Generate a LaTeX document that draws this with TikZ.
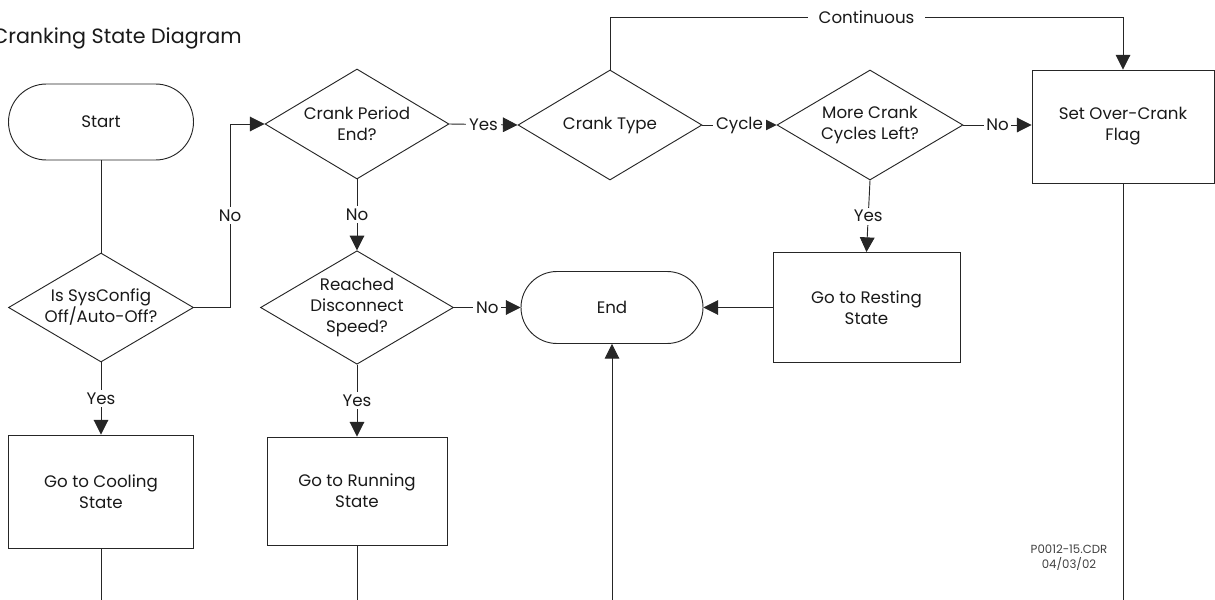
\documentclass[tikz,border=0pt]{standalone}
\usepackage{fontspec}
\setmainfont{Poppins}
\usetikzlibrary{shapes.geometric,shapes.misc,arrows.meta,calc}
\begin{document}
\begin{tikzpicture}[x=0.75pt,y=-0.75pt,
  every node/.style={font=\fontsize{12.5}{15.75}\selectfont, text=black!90},
  ln/.style={draw=black!85, line width=0.7pt},
  arr/.style={ln, -{Triangle[length=11pt,width=11pt]}},
  term/.style={rounded rectangle, ln, align=center, inner sep=0pt},
  dec/.style={diamond, ln, aspect=1.7, align=center, inner sep=0pt},
  proc/.style={rectangle, ln, align=center, inner sep=0pt},
  lbl/.style={fill=white, inner sep=2pt}
]
\useasboundingbox (0,0) rectangle (1215,600);

\node[anchor=base east, inner sep=0pt, font=\fontsize{15.5}{19}\selectfont] (title) at (242,43) {Cranking State Diagram};

\node[term, minimum width=138.75pt, minimum height=57pt] (start) at (101,122) {Start};
\node[dec, minimum width=138.75pt, minimum height=81.75pt] (d1) at (101,307.5) {Is SysConfig\\Off/Auto-Off?};
\node[proc, minimum width=138.75pt, minimum height=84.75pt] (cool) at (101,491.5) {Go to Cooling\\State};

\node[dec, minimum width=138pt, minimum height=82.5pt] (d2) at (357,124) {Crank Period\\End?};
\node[dec, minimum width=138pt, minimum height=81.75pt] (d5) at (357,307.5) {Reached\\Disconnect\\Speed?};
\node[proc, minimum width=135pt, minimum height=81pt] (run) at (357,491) {Go to Running\\State};

\node[dec, minimum width=138pt, minimum height=82.5pt] (d3) at (610,125) {Crank Type};
\node[term, minimum width=136.5pt, minimum height=54pt] (end) at (612,307.5) {End};

\node[dec, minimum width=139.5pt, minimum height=82.5pt] (d4) at (870,125) {More Crank\\Cycles Left?};
\node[proc, minimum width=140.25pt, minimum height=82.5pt] (rest) at (866.5,307.5) {Go to Resting\\State};

\node[proc, minimum width=136.5pt, minimum height=84.75pt] (flag) at (1123,126.5) {Set Over-Crank\\Flag};

\node[align=center, text=black!75, font=\fontsize{8.8}{11.2}\selectfont] (ref) at (1069,558) {P0012-15.CDR\\04/03/02};

\coordinate (bot) at (0,600);
\coordinate (top) at (0,17);
\coordinate (kno) at (230,0);

\draw[ln] (start.south) -- (d1.north);
\draw[arr] (d1.east) -- (d1.east -| kno) -- node[lbl]{No} (d2.west -| kno) -- (d2.west);
\draw[arr] (d1.south) -- node[lbl]{Yes} (cool.north);
\draw[ln] (cool.south) -- (cool.south |- bot);

\draw[arr] (d2.east) -- node[lbl]{Yes} (d3.west);
\draw[arr] (d2.south) -- node[lbl]{No} (d5.north);
\draw[arr] (d5.east) -- node[lbl]{No} (end.west);
\draw[arr] (d5.south) -- node[lbl]{Yes} (run.north);
\draw[ln] (run.south) -- (run.south |- bot);

\draw[arr] (d3.east) -- node[lbl]{Cycle} (d4.west);
\draw[arr] (d3.north) -- (d3.north |- top) -- node[lbl, inner xsep=8pt]{Continuous} (flag.north |- top) -- (flag.north);
\draw[arr] (d4.east) -- node[lbl]{No} (d4.east -| flag.west);
\draw[arr] (d4.south) -- node[lbl]{Yes} (rest.north);
\draw[arr] (rest.west) -- (end.east);
\draw[arr] (end.south |- bot) -- (end.south);
\draw[ln] (flag.south) -- (flag.south |- bot);
\end{tikzpicture}
\end{document}
